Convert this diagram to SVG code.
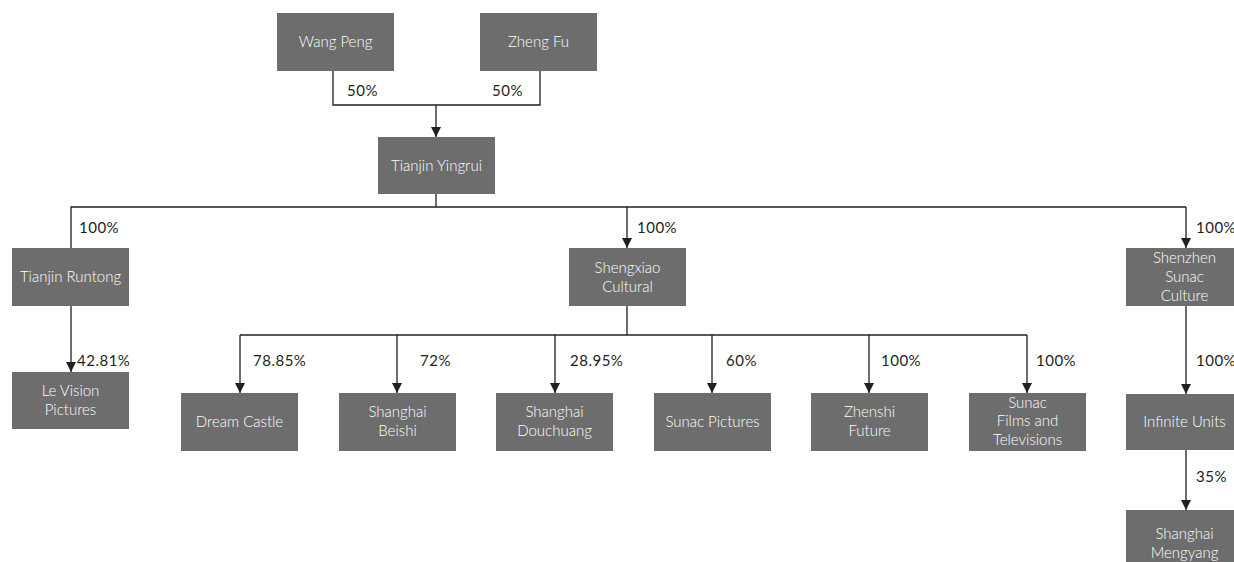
<svg xmlns="http://www.w3.org/2000/svg" width="1234" height="562" viewBox="0 0 1234 562">
<defs>
<marker id="arr" viewBox="0 0 10 10" refX="10" refY="5" markerWidth="10" markerHeight="10" markerUnits="userSpaceOnUse" orient="auto">
<path d="M0,0 L10,5 L0,10 z" fill="#231f20"/>
</marker>
<style>
.box{fill:#6d6d6d}
.t{font-family:Lato,"Open Sans","Liberation Sans",sans-serif;font-size:15px;font-weight:300;fill:#ffffff;text-anchor:middle}
.l{font-family:Lato,"Open Sans","Liberation Sans",sans-serif;font-size:15px;font-weight:400;letter-spacing:0.5px;fill:#231f20}
.c{fill:none;stroke:#231f20;stroke-width:1.3}
.a{fill:none;stroke:#231f20;stroke-width:1.3;marker-end:url(#arr)}
</style>
</defs>
<rect width="1234" height="562" fill="#ffffff"/>
<g id="connectors">
<polyline class="c" points="333,71 333,105 540,105 540,71"/>
<line class="a" x1="436" y1="105" x2="436" y2="137"/>
<polyline class="c" points="71,248 71,207 1186,207"/>
<line class="c" x1="436" y1="194" x2="436" y2="207"/>
<line class="a" x1="627" y1="207" x2="627" y2="248"/>
<line class="a" x1="1186" y1="207" x2="1186" y2="248"/>
<line class="a" x1="71" y1="306" x2="71" y2="372"/>
<line class="c" x1="627" y1="306" x2="627" y2="335"/>
<line class="c" x1="240" y1="335" x2="1027" y2="335"/>
<line class="a" x1="240" y1="335" x2="240" y2="393"/>
<line class="a" x1="397" y1="335" x2="397" y2="393"/>
<line class="a" x1="555" y1="335" x2="555" y2="393"/>
<line class="a" x1="712" y1="335" x2="712" y2="393"/>
<line class="a" x1="869" y1="335" x2="869" y2="393"/>
<line class="a" x1="1027" y1="335" x2="1027" y2="393"/>
<line class="a" x1="1186" y1="306" x2="1186" y2="394"/>
<line class="a" x1="1186" y1="450" x2="1186" y2="510"/>
<text class="l" x="347" y="96">50%</text>
<text class="l" x="492" y="96">50%</text>
<text class="l" x="79" y="233">100%</text>
<text class="l" x="637" y="233">100%</text>
<text class="l" x="1196" y="233">100%</text>
<text class="l" x="77" y="366">42.81%</text>
<text class="l" x="253" y="366">78.85%</text>
<text class="l" x="420" y="366">72%</text>
<text class="l" x="570" y="366">28.95%</text>
<text class="l" x="726" y="366">60%</text>
<text class="l" x="881" y="366">100%</text>
<text class="l" x="1036" y="366">100%</text>
<text class="l" x="1196" y="366">100%</text>
<text class="l" x="1196" y="482">35%</text>
</g>
<g id="wang-peng"><rect class="box" x="277" y="13" width="117" height="58"/><text class="t" x="335.5" y="47">Wang Peng</text></g>
<g id="zheng-fu"><rect class="box" x="480" y="13" width="117" height="58"/><text class="t" x="538.5" y="47">Zheng Fu</text></g>
<g id="tianjin-yingrui"><rect class="box" x="378" y="137" width="117" height="57"/><text class="t" x="436.5" y="171">Tianjin Yingrui</text></g>
<g id="tianjin-runtong"><rect class="box" x="12" y="248" width="117" height="58"/><text class="t" x="70.5" y="282">Tianjin Runtong</text></g>
<g id="shengxiao-cultural"><rect class="box" x="569" y="248" width="117" height="58"/><text class="t" x="627.5" y="273">Shengxiao</text><text class="t" x="627.5" y="292">Cultural</text></g>
<g id="shenzhen-sunac-culture"><rect class="box" x="1126" y="248" width="117" height="58"/><text class="t" x="1184.5" y="263">Shenzhen</text><text class="t" x="1184.5" y="282">Sunac</text><text class="t" x="1184.5" y="301">Culture</text></g>
<g id="le-vision-pictures"><rect class="box" x="12" y="372" width="117" height="57"/><text class="t" x="70.5" y="396">Le Vision</text><text class="t" x="70.5" y="415">Pictures</text></g>
<g id="dream-castle"><rect class="box" x="181" y="393" width="117" height="58"/><text class="t" x="239.5" y="427">Dream Castle</text></g>
<g id="shanghai-beishi"><rect class="box" x="339" y="393" width="117" height="58"/><text class="t" x="397.5" y="417">Shanghai</text><text class="t" x="397.5" y="436">Beishi</text></g>
<g id="shanghai-douchuang"><rect class="box" x="496" y="393" width="117" height="58"/><text class="t" x="554.5" y="417">Shanghai</text><text class="t" x="554.5" y="436">Douchuang</text></g>
<g id="sunac-pictures"><rect class="box" x="654" y="393" width="117" height="58"/><text class="t" x="712.5" y="427">Sunac Pictures</text></g>
<g id="zhenshi-future"><rect class="box" x="811" y="393" width="117" height="58"/><text class="t" x="869.5" y="417">Zhenshi</text><text class="t" x="869.5" y="436">Future</text></g>
<g id="sunac-films"><rect class="box" x="969" y="393" width="117" height="58"/><text class="t" x="1027.5" y="408">Sunac</text><text class="t" x="1027.5" y="426">Films and</text><text class="t" x="1027.5" y="445">Televisions</text></g>
<g id="infinite-units"><rect class="box" x="1126" y="394" width="117" height="56"/><text class="t" x="1184.5" y="427">Infinite Units</text></g>
<g id="shanghai-mengyang"><rect class="box" x="1126" y="510" width="117" height="58"/><text class="t" x="1184.5" y="539">Shanghai</text><text class="t" x="1184.5" y="558">Mengyang</text></g>
</svg>
